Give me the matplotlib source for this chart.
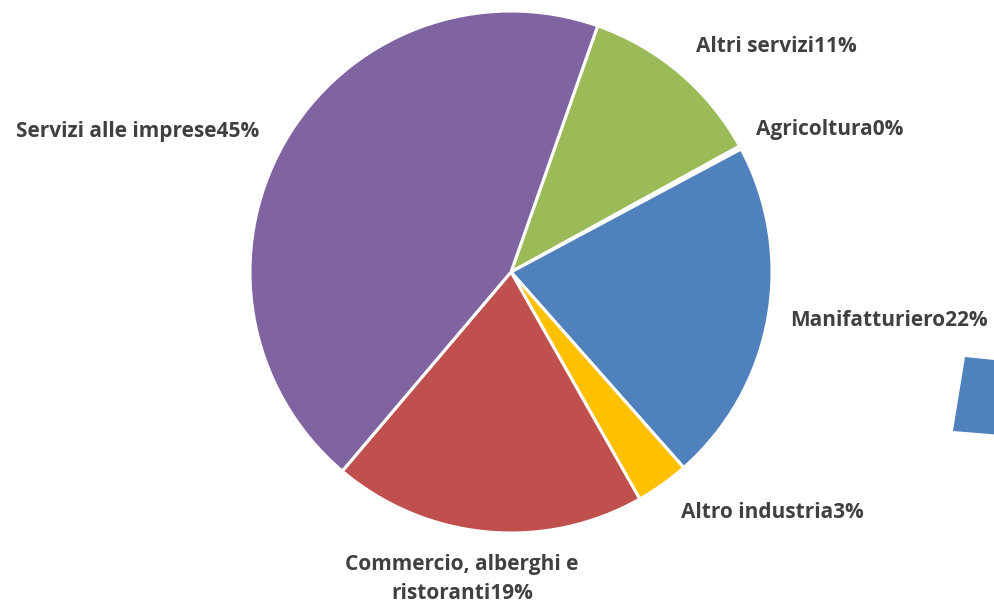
import matplotlib
matplotlib.use("Agg")
import matplotlib.pyplot as plt
from matplotlib.patches import Polygon

categories = ["Altri servizi", "Agricoltura", "Manifatturiero", "Altro industria",
              "Commercio, alberghi e\nristoranti", "Servizi alle imprese"]
values = [11.6, 0.2, 21.3, 3.3, 19.4, 44.2]
pct_labels = ["11%", "0%", "22%", "3%", "19%", "45%"]
colors = ["#9BBB59", "#F79646", "#4F81BD", "#FFC000", "#C0504D", "#8064A2"]

W, H = 994, 604
fig = plt.figure(figsize=(W / 100, H / 100), dpi=100)
fig.patch.set_facecolor("white")

cx, cy, r = 511, 272, 261
ax = fig.add_axes([(cx - r) / W, (H - cy - r) / H, 2 * r / W, 2 * r / H])
ax.pie(values, colors=colors, startangle=70.6, counterclock=False, radius=1,
       wedgeprops=dict(edgecolor="white", linewidth=2.2))
ax.set_xlim(-1.0, 1.0)
ax.set_ylim(-1.0, 1.0)
ax.set_aspect("equal")
ax.axis("off")

# label positions in pixel coordinates (x center, y center)
label_pos = [(776, 47), (830, 130), (889, 320), (772, 513), (462, 579), (138, 131)]
font = dict(family=["Open Sans", "DejaVu Sans"], fontweight="bold", fontsize=15, color="#404040")
for cat, pct, (px, py) in zip(categories, pct_labels, label_pos):
    fig.text(px / W, 1 - py / H, cat + pct, ha="center", va="center",
             linespacing=1.5, **font)

# partial shape of the adjacent chart at the right edge
shape = Polygon([(965 / W, 1 - 357 / H), (1.02, 1 - 362 / H), (1.02, 1 - 436 / H),
                 (953 / W, 1 - 431 / H)], closed=True, transform=fig.transFigure,
                facecolor="#4F81BD", edgecolor="none")
fig.patches.append(shape)

fig.savefig("out.png", dpi=100, facecolor="white")
